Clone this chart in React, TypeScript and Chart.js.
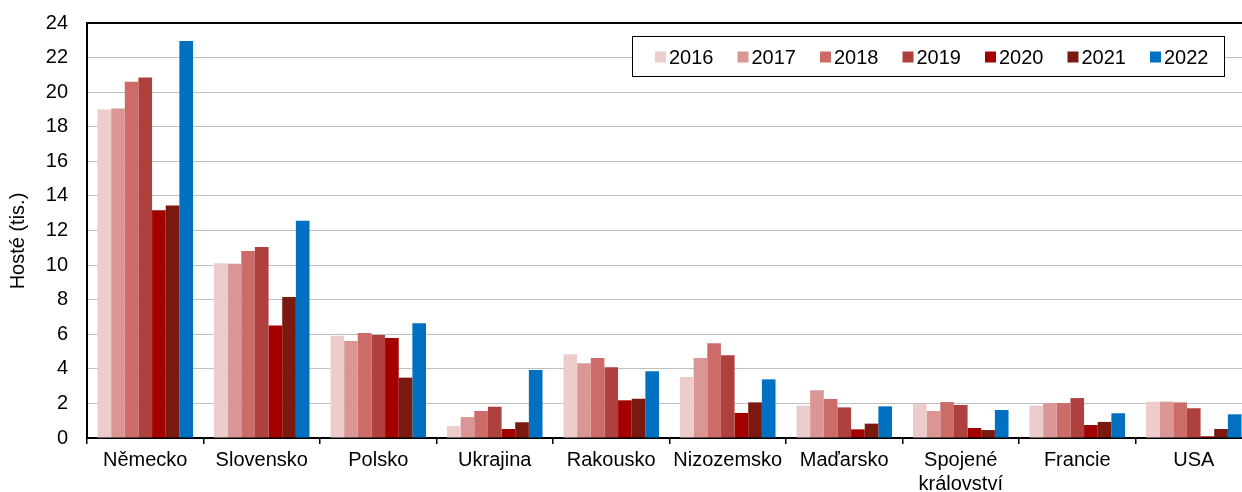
import React, { useEffect, useRef } from "react";
import { Chart, registerables } from "chart.js";

Chart.register(...registerables);

const categories: (string | string[])[] = [
  "Německo",
  "Slovensko",
  "Polsko",
  "Ukrajina",
  "Rakousko",
  "Nizozemsko",
  "Maďarsko",
  ["Spojené", "království"],
  "Francie",
  "USA",
];

const years = ["2016", "2017", "2018", "2019", "2020", "2021", "2022"];

const v2016 = [19.0, 10.1, 5.92, 0.69, 4.84, 3.53, 1.87, 1.97, 1.87, 2.1];
const v2017 = [19.05, 10.08, 5.61, 1.21, 4.32, 4.63, 2.76, 1.56, 2.02, 2.1];
const v2018 = [20.6, 10.82, 6.07, 1.56, 4.63, 5.48, 2.26, 2.08, 2.02, 2.06];
const v2019 = [20.85, 11.05, 5.96, 1.81, 4.09, 4.78, 1.77, 1.91, 2.31, 1.72];
const v2020 = [13.17, 6.5, 5.78, 0.52, 2.18, 1.45, 0.5, 0.58, 0.75, 0.1];
const v2021 = [13.44, 8.16, 3.49, 0.91, 2.27, 2.06, 0.83, 0.46, 0.93, 0.52];
const v2022 = [22.96, 12.57, 6.63, 3.93, 3.86, 3.39, 1.83, 1.62, 1.43, 1.37];

const seriesValues = [v2016, v2017, v2018, v2019, v2020, v2021, v2022];
const seriesColors = ["#ECCDCC", "#DA9694", "#CB6C69", "#AE403E", "#A30000", "#7A1910", "#0070C0"];

const yTicks = [0, 2, 4, 6, 8, 10, 12, 14, 16, 18, 20, 22, 24];
const yTitle = "Hosté (tis.)";

const FONT = "'Liberation Sans', Arial, Helvetica, sans-serif";

const frameAndLegend = {
  id: "frameAndLegend",
  afterDraw(chart: any) {
    const { ctx, chartArea } = chart;
    ctx.save();
    // top border of plot area
    ctx.strokeStyle = "#000";
    ctx.lineWidth = 2;
    ctx.beginPath();
    ctx.moveTo(chartArea.left - 1, chartArea.top);
    ctx.lineTo(chartArea.right, chartArea.top);
    ctx.stroke();

    // y axis title
    ctx.save();
    ctx.translate(18, 241);
    ctx.rotate(-Math.PI / 2);
    ctx.font = `20px ${FONT}`;
    ctx.fillStyle = "#000";
    ctx.textAlign = "center";
    ctx.textBaseline = "middle";
    ctx.fillText(yTitle, 0, 0);
    ctx.restore();

    // legend box
    const bx = 632.5, by = 36.5, bw = 592, bh = 40;
    ctx.fillStyle = "#fff";
    ctx.fillRect(bx, by, bw, bh);
    ctx.lineWidth = 1;
    ctx.strokeStyle = "#000";
    ctx.strokeRect(bx, by, bw, bh);

    ctx.font = `20px ${FONT}`;
    ctx.textBaseline = "middle";
    ctx.textAlign = "left";
    const ds = chart.data.datasets;
    for (let i = 0; i < ds.length; i++) {
      const x = 655 + i * 82.5;
      const cy = 57;
      ctx.fillStyle = ds[i].backgroundColor;
      ctx.fillRect(x, cy - 5.5, 11, 11);
      ctx.fillStyle = "#000";
      ctx.fillText(ds[i].label, x + 14, cy + 1);
    }
    ctx.restore();
  },
};

export default function App() {
  const ref = useRef<HTMLCanvasElement | null>(null);

  useEffect(() => {
    document.documentElement.style.overflow = "hidden";
    document.body.style.overflow = "hidden";
    document.body.style.margin = "0";
    if (!ref.current) return;
    const chart = new Chart(ref.current, {
      type: "bar",
      data: {
        labels: categories,
        datasets: years.map((y, i) => ({
          label: y,
          data: seriesValues[i],
          backgroundColor: seriesColors[i],
          borderWidth: 0,
          categoryPercentage: 0.82,
          barPercentage: 1,
        })),
      },
      options: {
        responsive: false,
        animation: false,
        devicePixelRatio: 1,
        layout: { padding: { top: 23, right: 0, left: 0, bottom: 0 } },
        plugins: {
          legend: { display: false },
          tooltip: { enabled: false },
        },
        scales: {
          x: {
            grid: {
              offset: true,
              drawOnChartArea: false,
              drawTicks: true,
              tickLength: 6,
              color: "#000",
              lineWidth: 1.5,
            },
            border: { color: "#000", width: 2 },
            ticks: {
              color: "#000",
              font: { family: FONT, size: 20 },
              padding: 4,
              maxRotation: 0,
              autoSkip: false,
            },
            afterFit: (s: any) => {
              s.height = 54;
              s.paddingLeft = 0;
              s.paddingRight = 0;
            },
          },
          y: {
            min: 0,
            max: 24,
            afterBuildTicks: (s: any) => {
              s.ticks = yTicks.map((v) => ({ value: v }));
            },
            grid: {
              color: "#C0C0C0",
              lineWidth: 1,
              drawTicks: false,
            },
            border: { color: "#000", width: 2 },
            ticks: {
              color: "#000",
              font: { family: FONT, size: 20 },
              padding: 19,
            },
            title: { display: false },
            afterFit: (s: any) => {
              s.width = 87;
              s.paddingTop = 0;
              s.paddingBottom = 0;
            },
          },
        },
      },
      plugins: [frameAndLegend],
    });
    return () => chart.destroy();
  }, []);

  return (
    <div style={{ position: "absolute", left: 0, top: 0, width: 1252, height: 492 }}>
      <canvas ref={ref} width={1252} height={492} style={{ width: 1252, height: 492, display: "block" }} />
    </div>
  );
}
